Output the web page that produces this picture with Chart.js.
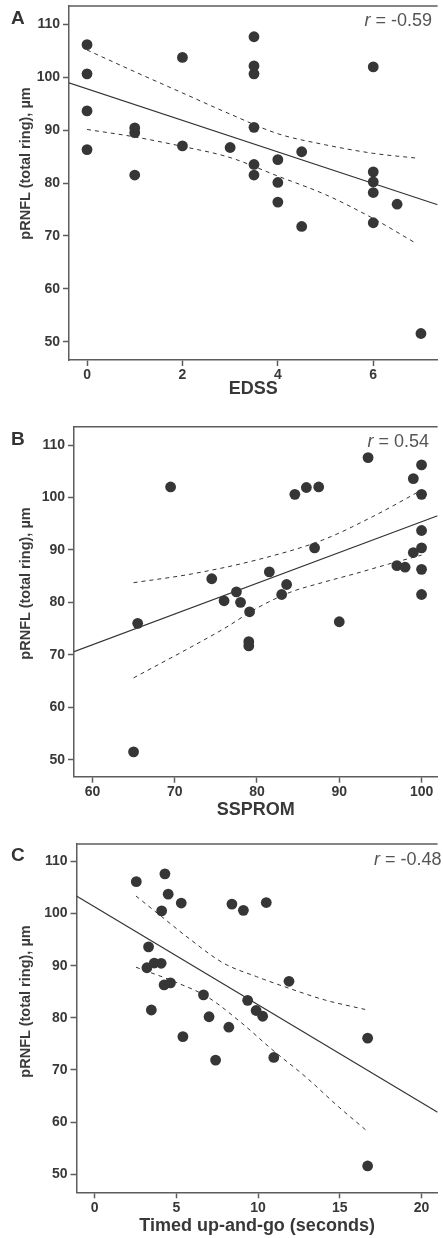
<!DOCTYPE html>
<html>
<head>
<meta charset="utf-8">
<script src="https://cdn.jsdelivr.net/npm/chart.js@4.4.1/dist/chart.umd.min.js"></script>
<style>
  html, body { margin: 0; padding: 0; background: #fff; }
  #wrap { position: relative; width: 443px; height: 1238px; overflow: hidden; font-family: "Liberation Sans", Arial, sans-serif; }
  canvas { position: absolute; left: 0; }
  .letter { position: absolute; left: 11px; font-weight: bold; font-size: 19px; line-height: 18px; color: #333; }
  .rval { position: absolute; font-size: 18px; line-height: 18px; color: #555; white-space: nowrap; }
  .ytitle { position: absolute; left: -95px; width: 240px; height: 17px; text-align: center; font-weight: bold;
            font-size: 14.5px; line-height: 17px; color: #3b3b3b; transform: rotate(-90deg); white-space: nowrap; }
</style>
</head>
<body>
<div id="wrap">
  <canvas id="chartA" width="443" height="410" style="top:0px"></canvas>
  <canvas id="chartB" width="443" height="420" style="top:405px"></canvas>
  <canvas id="chartC" width="443" height="413" style="top:825px"></canvas>

  <div class="letter" style="top:9.3px">A</div>
  <div class="letter" style="top:430.3px">B</div>
  <div class="letter" style="top:846.3px">C</div>

  <div class="rval" style="top:10.8px; right:11px"><i>r</i> = -0.59</div>
  <div class="rval" style="top:431.8px; right:14px"><i>r</i> = 0.54</div>
  <div class="rval" style="top:849.8px; right:1.5px"><i>r</i> = -0.48</div>

  <div class="ytitle" style="top:154.5px">pRNFL (total ring), µm</div>
  <div class="ytitle" style="top:575.2px">pRNFL (total ring), µm</div>
  <div class="ytitle" style="top:992.5px">pRNFL (total ring), µm</div>
</div>
<script>
/********************************************* Panel A : EDSS ************************************************/
var edssX = [0, 0, 0, 0, 1, 1, 1, 2, 2, 3, 3.5, 3.5, 3.5, 3.5, 3.5, 3.5, 4, 4, 4, 4.5, 4.5, 6, 6, 6, 6, 6, 6.5, 7];
var edssY = [106.1, 100.6, 93.6, 86.3, 90.4, 89.5, 81.5, 103.7, 87.0, 86.7, 107.6, 102.1, 100.6, 90.5, 83.5, 81.5, 84.4, 80.1, 76.4, 85.9, 71.8, 101.9, 82.1, 80.2, 78.2, 72.5, 76.0, 51.6];
var edssFitX = [-0.38, 7.35];
var edssFitY = [98.9, 75.9];
var edssCiX = [0, 1, 2, 3, 4, 5, 6, 6.9];
var edssUpY = [105.1, 101.0, 97.0, 93.0, 89.3, 87.2, 85.6, 84.7];
var edssLoY = [90.1, 88.7, 86.9, 84.8, 81.3, 77.8, 73.3, 68.6];

/********************************************* Panel B : SSPROM ************************************************/
var sspromX = [69.5, 74.5, 76.0, 77.5, 78.0, 79.1, 79.0, 79.0, 81.5, 83.0, 83.6, 84.6, 86.0, 87.5, 87.0, 90.0, 93.5, 97.0, 98.0, 99.0, 99.0, 100, 100, 100, 100, 100, 100, 65.5, 65.0];
var sspromY = [102.0, 84.5, 80.3, 82.0, 80.0, 78.2, 72.5, 71.7, 85.8, 81.5, 83.4, 100.6, 101.9, 102.0, 90.4, 76.3, 107.6, 87.0, 86.7, 103.6, 89.5, 106.2, 100.6, 93.7, 90.4, 86.3, 81.5, 76.0, 51.5];
var sspromFitX = [57.76, 101.95];
var sspromFitY = [70.6, 96.5];
var sspromUpX = [65, 72, 80, 88, 94, 100];
var sspromUpY = [83.75, 85.4, 88.1, 91.9, 96.3, 101.4];
var sspromLoX = [65, 72, 76, 80, 84, 88, 92, 96, 100];
var sspromLoY = [65.6, 71.5, 75.0, 78.9, 81.9, 83.8, 85.5, 87.3, 89.0];

/********************************************* Panel C : Timed up-and-go ************************************************/
var tugX = [2.55, 4.3, 4.5, 5.3, 4.1, 8.4, 9.1, 10.5, 3.3, 3.2, 3.65, 4.07, 4.25, 4.64, 11.89, 3.47, 6.66, 7.0, 8.21, 9.36, 9.88, 10.28, 5.4, 7.4, 10.96, 16.7, 16.7];
var tugY = [106.1, 107.6, 103.7, 102.0, 100.5, 101.8, 100.6, 102.1, 93.6, 89.6, 90.5, 90.45, 86.3, 86.7, 87.0, 81.5, 84.4, 80.2, 78.2, 83.35, 81.4, 80.3, 76.4, 71.9, 72.4, 76.1, 51.6];
var tugFitX = [-1.11, 20.98];
var tugFitY = [103.35, 61.9];
var tugUpX = [2.53, 4.1, 5.9, 7.9, 9.9, 11.9, 14.1, 16.55];
var tugUpY = [103.35, 99.4, 94.9, 90.45, 87.9, 85.65, 83.4, 81.6];
var tugLoX = [2.53, 4.9, 6.9, 8.9, 10.9, 12.9, 14.9, 16.7];
var tugLoY = [89.7, 86.9, 84.0, 79.25, 73.8, 68.7, 63.0, 58.2];

var yTicksStep = 10;
var axisGrey = '#5c5c5c';
var textGrey = '#383838';
var dotColor = '#363636';

Chart.defaults.font.family = "'Liberation Sans', Arial, sans-serif";

function toPts(xs, ys) {
  return xs.map(function(v, i) { return { x: v, y: ys[i] }; });
}

// top border of the box (left and bottom come from the axes)
var topLine = {
  id: 'topLine',
  afterDraw: function(chart) {
    var a = chart.chartArea, c = chart.ctx;
    c.save();
    c.strokeStyle = axisGrey;
    c.lineWidth = 1.5;
    c.beginPath();
    c.moveTo(a.left, a.top);
    c.lineTo(a.right, a.top);
    c.stroke();
    c.restore();
  }
};

function makePanel(id, p) {
  new Chart(document.getElementById(id), {
    type: 'scatter',
    data: {
      datasets: [
        { data: toPts(p.x, p.y), backgroundColor: dotColor, borderColor: dotColor, borderWidth: 0,
          pointRadius: 5.4, pointHoverRadius: 5.4, order: 0 },
        { data: toPts(p.fitX, p.fitY), showLine: true, borderColor: '#333', borderWidth: 1.2,
          pointRadius: 0, order: 1 },
        { data: toPts(p.upX, p.upY), showLine: true, borderColor: '#333', borderWidth: 1,
          borderDash: [4, 4], pointRadius: 0, cubicInterpolationMode: 'monotone', order: 1 },
        { data: toPts(p.loX, p.loY), showLine: true, borderColor: '#333', borderWidth: 1,
          borderDash: [4, 4], pointRadius: 0, cubicInterpolationMode: 'monotone', order: 1 }
      ]
    },
    options: {
      responsive: false,
      animation: false,
      events: [],
      layout: { padding: { left: 0, right: 0, top: p.top, bottom: 0 } },
      plugins: { legend: { display: false }, tooltip: { enabled: false } },
      scales: {
        x: {
          type: 'linear', min: p.xMin, max: p.xMax,
          ticks: { stepSize: p.xStep, includeBounds: false, padding: 1, color: textGrey,
                   font: { size: 14, weight: 'bold' } },
          grid: { drawOnChartArea: false, tickLength: 6, tickColor: axisGrey, tickWidth: 1.5 },
          border: { color: axisGrey, width: 1.5 },
          title: { display: true, text: p.xTitle, color: textGrey,
                   font: { size: 18, weight: 'bold' }, padding: { top: 0, bottom: p.titlePad } },
          afterFit: function(s) { s.height = p.xH; s.paddingLeft = 0; s.paddingRight = 0; }
        },
        y: {
          type: 'linear', min: p.yMin, max: p.yMax,
          ticks: { stepSize: yTicksStep, includeBounds: false, padding: 3, color: textGrey,
                   font: { size: 14, weight: 'bold' } },
          grid: { drawOnChartArea: false, tickLength: 6, tickColor: axisGrey, tickWidth: 1.5 },
          border: { color: axisGrey, width: 1.5 },
          afterFit: function(s) { s.width = p.left; s.paddingTop = 0; s.paddingBottom = 0; }
        }
      }
    },
    plugins: [topLine]
  });
}

makePanel('chartA', {
  x: edssX, y: edssY, fitX: edssFitX, fitY: edssFitY,
  upX: edssCiX, upY: edssUpY, loX: edssCiX, loY: edssLoY,
  xMin: -0.378, xMax: 7.349, xStep: 2, yMin: 46.6, yMax: 113.4,
  xTitle: 'EDSS', top: 6, left: 69, xH: 50, titlePad: 9.7
});

makePanel('chartB', {
  x: sspromX, y: sspromY, fitX: sspromFitX, fitY: sspromFitY,
  upX: sspromUpX, upY: sspromUpY, loX: sspromLoX, loY: sspromLoY,
  xMin: 57.76, xMax: 101.95, xStep: 10, yMin: 46.76, yMax: 113.49,
  xTitle: 'SSPROM', top: 21.7, left: 74, xH: 48.3, titlePad: 4.2
});

makePanel('chartC', {
  x: tugX, y: tugY, fitX: tugFitX, fitY: tugFitY,
  upX: tugUpX, upY: tugUpY, loX: tugLoX, loY: tugLoY,
  xMin: -1.108, xMax: 20.98, xStep: 5, yMin: 46.55, yMax: 113.32,
  xTitle: 'Timed up-and-go (seconds)', top: 19, left: 76.5, xH: 45.7, titlePad: 0.9
});
</script>
</body>
</html>
